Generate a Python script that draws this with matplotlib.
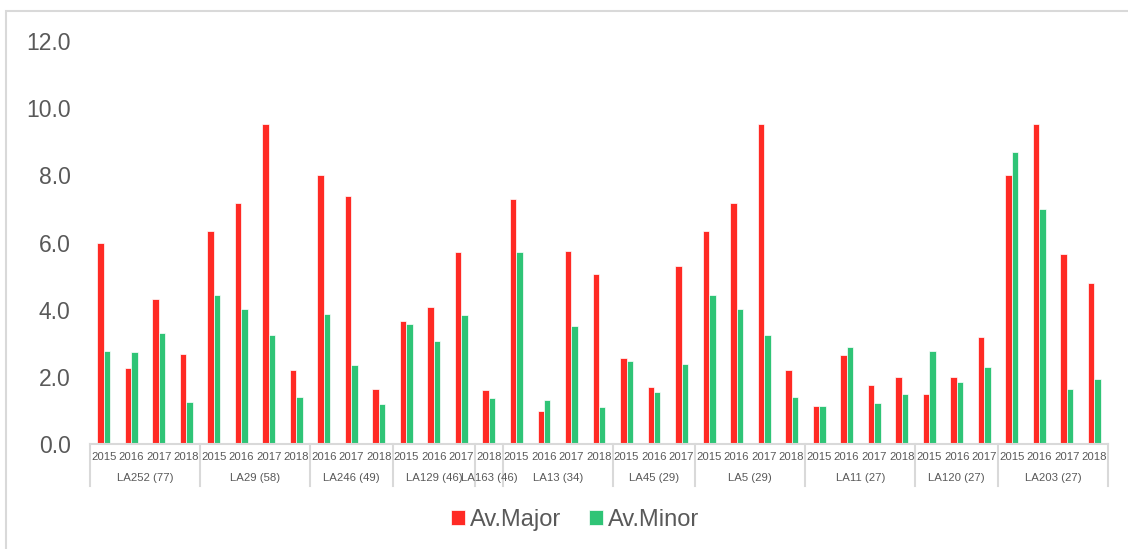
import numpy as np
import matplotlib.pyplot as plt
from matplotlib.patches import Rectangle

plt.rcParams['font.family'] = ['Liberation Sans', 'DejaVu Sans']

# groups and the years shown under each
groups = ["LA252 (77)", "LA29 (58)", "LA246 (49)", "LA129 (46)", "LA163 (46)", "LA13 (34)",
          "LA45 (29)", "LA5 (29)", "LA11 (27)", "LA120 (27)", "LA203 (27)"]
group_years = [
    ["2015", "2016", "2017", "2018"],
    ["2015", "2016", "2017", "2018"],
    ["2016", "2017", "2018"],
    ["2015", "2016", "2017"],
    ["2018"],
    ["2015", "2016", "2017", "2018"],
    ["2015", "2016", "2017"],
    ["2015", "2016", "2017", "2018"],
    ["2015", "2016", "2017", "2018"],
    ["2015", "2016", "2017"],
    ["2015", "2016", "2017", "2018"],
]

av_major = [6.00, 2.25, 4.31, 2.68,
            6.34, 7.17, 9.54, 2.19,
            8.01, 7.37, 1.65,
            3.66, 4.07, 5.72,
            1.61,
            7.29, 0.97, 5.74, 5.05,
            2.56, 1.71, 5.31,
            6.34, 7.17, 9.54, 2.19,
            1.13, 2.66, 1.77, 1.99,
            1.49, 1.99, 3.20,
            8.01, 9.52, 5.66, 4.79]
av_minor = [2.78, 2.74, 3.32, 1.25,
            4.43, 4.03, 3.26, 1.39,
            3.87, 2.35, 1.19,
            3.56, 3.08, 3.84,
            1.37,
            5.72, 1.31, 3.50, 1.09,
            2.48, 1.55, 2.38,
            4.43, 4.03, 3.26, 1.39,
            1.13, 2.88, 1.21, 1.49,
            2.78, 1.85, 2.29,
            8.68, 7.01, 1.65, 1.93]

red = "#FF2A24"
green = "#2FC476"
grey_txt = "#595959"
grey_line = "#D9D9D9"

fig = plt.figure(figsize=(11.28, 5.49), dpi=100)
ax = fig.add_axes([90 / 1128, 105 / 549, 1018 / 1128, 403 / 549])

x = np.arange(len(av_major))
w = 0.235
ax.bar(x - w / 2, av_major, w, color=red, edgecolor="white", linewidth=0.5, label="Av.Major")
ax.bar(x + w / 2, av_minor, w, color=green, edgecolor="white", linewidth=0.5, label="Av.Minor")

ax.set_xlim(-0.5, len(x) - 0.5)
ax.set_ylim(0, 12)
ax.set_yticks(np.arange(0, 13, 2))
ax.set_yticklabels([f"{v:.1f}" for v in np.arange(0, 13, 2)])
ax.tick_params(axis="y", length=0, pad=14, labelsize=16.5, labelcolor=grey_txt)
ax.set_xticks([])
for s in ["top", "right", "left"]:
    ax.spines[s].set_visible(False)
ax.spines["bottom"].set_color(grey_line)
ax.spines["bottom"].set_linewidth(1.5)

# two-level category labels under the axis
tr = ax.get_xaxis_transform()
pos = 0
bounds = [-0.5]
for name, yrs in zip(groups, group_years):
    for i, yr in enumerate(yrs):
        ax.text(pos + i, -0.032, yr, transform=tr, ha="center", va="center",
                fontsize=8.2, color=grey_txt, clip_on=False)
    ax.text(pos + (len(yrs) - 1) / 2, -0.084, name, transform=tr, ha="center", va="center",
            fontsize=8.2, color=grey_txt, clip_on=False)
    pos += len(yrs)
    bounds.append(pos - 0.5)
for b in bounds:
    ax.plot([b, b], [0, -0.105], transform=tr, color=grey_line, lw=1.5, clip_on=False)

fig.legend(loc="center", bbox_to_anchor=(575 / 1128, 29 / 549), ncol=2, frameon=False,
           fontsize=17, labelcolor=grey_txt, handlelength=0.6, handleheight=0.6,
           handletextpad=0.2, columnspacing=1.2)

# light frame round the chart
fig.patches.append(Rectangle((6 / 1128, -0.1), 1.2, (549 - 11) / 549 + 0.1, transform=fig.transFigure,
                             fill=False, edgecolor=grey_line, lw=1.5))

fig.savefig("out.png", dpi=100)
